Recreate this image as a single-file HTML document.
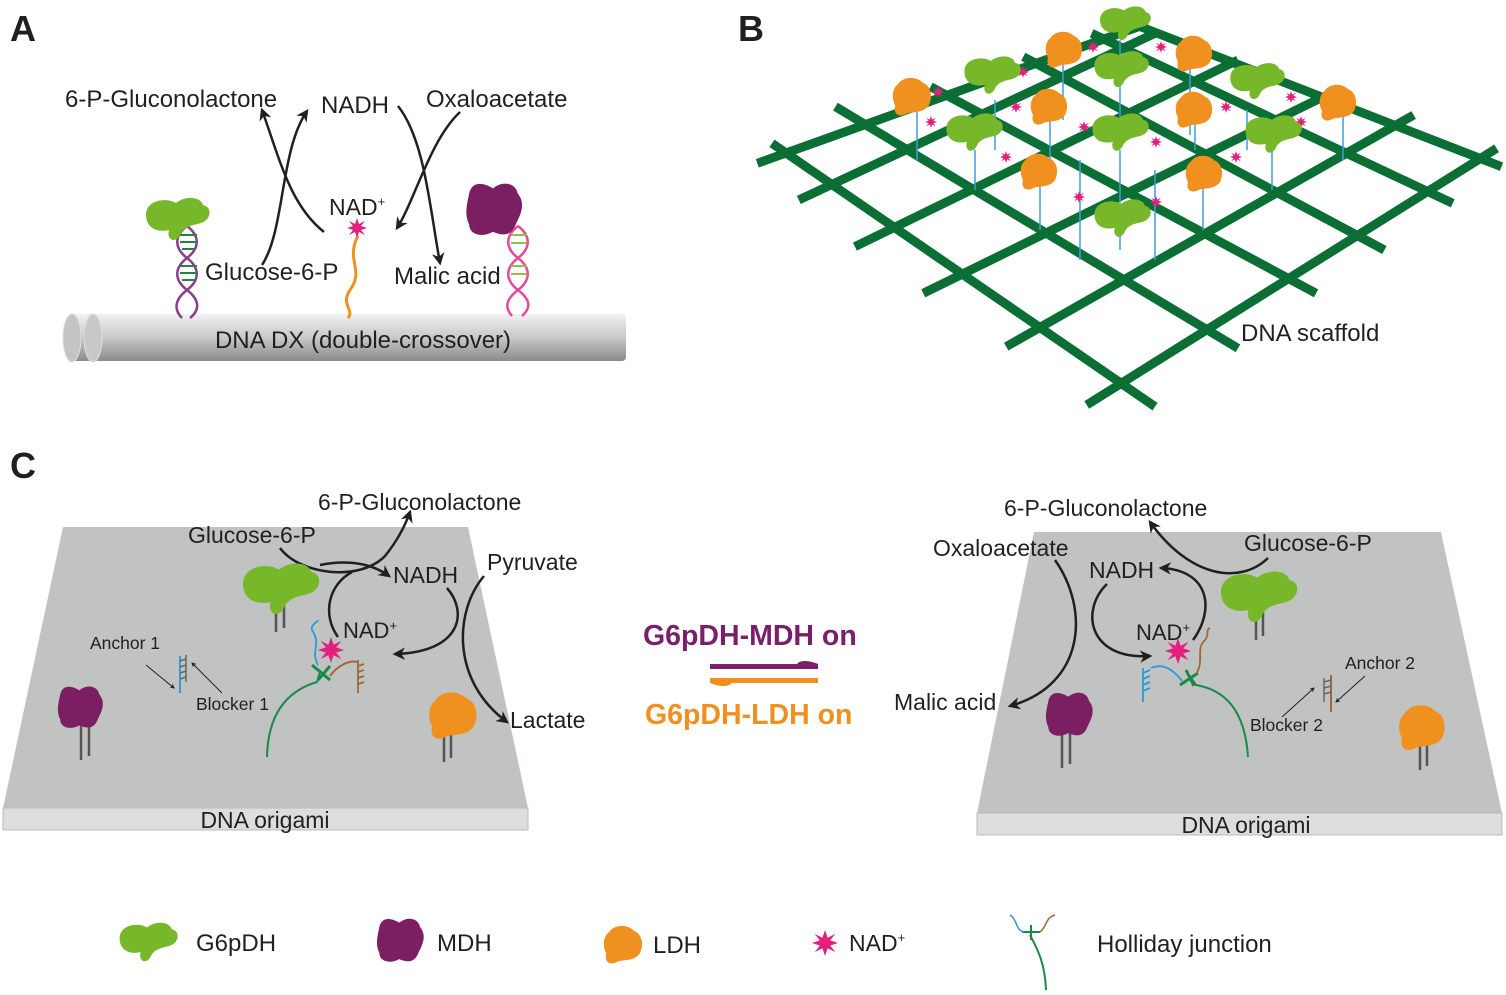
<!DOCTYPE html>
<html><head><meta charset="utf-8"><style>
html,body{margin:0;padding:0;background:#fff}
svg{display:block}
text{font-family:"Liberation Sans",Arial,sans-serif;fill:#231f20}
</style></head><body>
<svg width="1506" height="995" viewBox="0 0 1506 995" xmlns="http://www.w3.org/2000/svg">
<defs>
<marker id="ah" viewBox="0 0 10 10" refX="8" refY="5" markerWidth="5" markerHeight="5" orient="auto"><path d="M0,0 L10,5 L0,10 L3,5Z" fill="#231f20"/></marker>
<linearGradient id="cyl" x1="0" y1="0" x2="0" y2="1"><stop offset="0" stop-color="#f2f2f2"/><stop offset="0.5" stop-color="#c8c8c8"/><stop offset="1" stop-color="#8a8a8a"/></linearGradient>
<symbol id="g" viewBox="0 0 70 50"><path d="M5,20 C5,5 25,2 35,8 C45,0 60,2 62,10 C72,12 70,25 60,28 C55,30 45,30 40,38 C35,50 25,45 28,35 C15,38 5,32 5,20Z" fill="#77b82a"/></symbol>
<symbol id="p" viewBox="0 0 60 60"><path d="M5,15 C8,2 20,5 28,10 C38,2 50,5 52,15 C60,25 55,35 50,45 C45,58 35,55 28,52 C18,58 5,55 5,45 C0,35 3,25 5,15Z" fill="#7b1f62"/></symbol>
<symbol id="o" viewBox="0 0 50 50"><path d="M8,10 C15,0 30,0 38,8 C48,12 50,25 45,35 C38,45 25,42 18,45 C10,50 2,45 5,35 C0,25 2,15 8,10Z" fill="#f0901e"/></symbol>
<symbol id="s" viewBox="0 0 20 20"><path d="M10,0 L12,6 L18,3 L14,8 L20,10 L14,12 L18,17 L12,14 L10,20 L8,14 L2,17 L6,12 L0,10 L6,8 L2,3 L8,6Z" fill="#e4207f"/></symbol>
</defs>

<text x="10" y="41" font-size="36" font-weight="bold" fill="#000">A</text>
<text x="738" y="41" font-size="36" font-weight="bold" fill="#000">B</text>
<text x="10" y="478" font-size="36" font-weight="bold" fill="#000">C</text>

<!-- ===== Panel A ===== -->
<rect x="70" y="314" width="556" height="47" fill="url(#cyl)" rx="4"/>
<ellipse cx="72" cy="338" rx="9" ry="24" fill="#c4c4c4" stroke="#ddd"/>
<ellipse cx="93" cy="338" rx="9" ry="24" fill="#c8c8c8" stroke="#ddd"/>
<text x="363" y="348" font-size="24" text-anchor="middle">DNA DX (double-crossover)</text>
<text x="65" y="107" font-size="24">6-P-Gluconolactone</text>
<text x="321" y="113" font-size="24">NADH</text>
<text x="426" y="107" font-size="24">Oxaloacetate</text>
<text x="329" y="215" font-size="23">NAD<tspan font-size="13" dy="-9">+</tspan></text>
<text x="205" y="280" font-size="24">Glucose-6-P</text>
<text x="394" y="284" font-size="24">Malic acid</text>
<g fill="none" stroke="#231f20" stroke-width="2.5" marker-end="url(#ah)">
<path d="M324,232 C290,205 280,160 262,110"/>
<path d="M262,265 C285,230 280,150 307,111"/>
<path d="M398,106 C425,140 430,210 440,263"/>
<path d="M460,112 C430,140 415,200 397,228"/>
</g>
<!-- left helix -->
<path d="M187,226 C200,236 200,248 187,258 C174,268 174,280 187,290 C200,300 200,310 190,318" fill="none" stroke="#8b3d8b" stroke-width="2.5"/>
<path d="M187,226 C174,236 174,248 187,258 C200,268 200,280 187,290 C174,300 174,310 182,318" fill="none" stroke="#8b3d8b" stroke-width="2.5"/>
<g stroke="#1a8a3a" stroke-width="2"><line x1="180" y1="235" x2="197" y2="235"/><line x1="180" y1="242" x2="197" y2="242"/><line x1="182" y1="249" x2="195" y2="249"/><line x1="180" y1="266" x2="197" y2="266"/><line x1="180" y1="273" x2="197" y2="273"/><line x1="182" y1="280" x2="195" y2="280"/></g>
<use href="#g" x="140" y="195" width="72" height="50"/>
<!-- right helix -->
<path d="M518,226 C531,236 531,248 518,258 C505,268 505,280 518,290 C531,300 531,308 522,316" fill="none" stroke="#e64a9b" stroke-width="2.5"/>
<path d="M518,226 C505,236 505,248 518,258 C531,268 531,280 518,290 C505,300 505,308 512,316" fill="none" stroke="#e64a9b" stroke-width="2.5"/>
<g stroke="#8cc43f" stroke-width="2"><line x1="511" y1="235" x2="527" y2="235"/><line x1="511" y1="243" x2="527" y2="243"/><line x1="511" y1="266" x2="527" y2="266"/><line x1="511" y1="274" x2="527" y2="274"/></g>
<use href="#p" x="460" y="178" width="70" height="62"/>
<path d="M358,236 C345,260 365,270 350,290 C340,305 355,310 348,318" fill="none" stroke="#f0901e" stroke-width="3"/>
<use href="#s" x="347" y="218" width="20" height="20"/>

<!-- ===== Panel B ===== -->
<g transform="translate(750,0) scale(0.488,0.3333)" stroke="#0a6e35" stroke-width="9" fill="none">
<line x1="45" y1="430" x2="830" y2="1220" vector-effect="non-scaling-stroke"/>
<line x1="175" y1="320" x2="1000" y2="1045" vector-effect="non-scaling-stroke"/>
<line x1="370" y1="260" x2="1160" y2="880" vector-effect="non-scaling-stroke"/>
<line x1="560" y1="170" x2="1300" y2="750" vector-effect="non-scaling-stroke"/>
<line x1="700" y1="100" x2="1440" y2="610" vector-effect="non-scaling-stroke"/>
<line x1="800" y1="80" x2="1540" y2="500" vector-effect="non-scaling-stroke"/>
<line x1="690" y1="1215" x2="1530" y2="445" vector-effect="non-scaling-stroke"/>
<line x1="525" y1="1040" x2="1360" y2="345" vector-effect="non-scaling-stroke"/>
<line x1="355" y1="880" x2="1175" y2="290" vector-effect="non-scaling-stroke"/>
<line x1="215" y1="740" x2="1000" y2="180" vector-effect="non-scaling-stroke"/>
<line x1="100" y1="600" x2="830" y2="100" vector-effect="non-scaling-stroke"/>
<line x1="15" y1="490" x2="815" y2="70" vector-effect="non-scaling-stroke"/>
</g>
<g stroke="#3aa0d8" stroke-width="1.5">
<line x1="917" y1="110" x2="917" y2="160"/><line x1="995" y1="100" x2="995" y2="150"/><line x1="1063" y1="60" x2="1063" y2="120"/>
<line x1="1120" y1="40" x2="1120" y2="140"/><line x1="1190" y1="60" x2="1190" y2="135"/><line x1="1247" y1="110" x2="1247" y2="150"/>
<line x1="975" y1="150" x2="975" y2="190"/><line x1="1120" y1="150" x2="1120" y2="250"/><line x1="1272" y1="150" x2="1272" y2="190"/>
<line x1="1040" y1="185" x2="1040" y2="230"/><line x1="1203" y1="185" x2="1203" y2="230"/><line x1="1050" y1="120" x2="1050" y2="160"/>
<line x1="1195" y1="120" x2="1195" y2="150"/><line x1="1343" y1="115" x2="1343" y2="160"/><line x1="1080" y1="160" x2="1080" y2="260"/><line x1="1155" y1="170" x2="1155" y2="260"/>
</g>
<g>
<use href="#s" x="932" y="85" width="12" height="14"/><use href="#s" x="925" y="115" width="12" height="14"/><use href="#s" x="1017" y="65" width="12" height="14"/>
<use href="#s" x="1000" y="150" width="12" height="14"/><use href="#s" x="1078" y="120" width="12" height="14"/><use href="#s" x="1073" y="190" width="12" height="14"/>
<use href="#s" x="1150" y="135" width="12" height="14"/><use href="#s" x="1150" y="195" width="12" height="14"/><use href="#s" x="1230" y="150" width="12" height="14"/>
<use href="#s" x="1285" y="90" width="12" height="14"/><use href="#s" x="1295" y="115" width="12" height="14"/><use href="#s" x="1087" y="40" width="12" height="14"/>
<use href="#s" x="1155" y="40" width="12" height="14"/><use href="#s" x="1220" y="100" width="12" height="14"/><use href="#s" x="1010" y="100" width="12" height="14"/>
</g>
<use href="#o" x="890" y="76" width="44" height="42"/>
<use href="#o" x="1043" y="30" width="42" height="40"/>
<use href="#o" x="1173" y="34" width="42" height="40"/>
<use href="#o" x="1028" y="87" width="42" height="40"/>
<use href="#o" x="1173" y="90" width="42" height="40"/>
<use href="#o" x="1317" y="83" width="42" height="40"/>
<use href="#o" x="1018" y="152" width="42" height="40"/>
<use href="#o" x="1183" y="154" width="42" height="40"/>
<use href="#g" x="1096" y="0" width="56" height="48"/>
<use href="#g" x="960" y="50" width="62" height="52"/>
<use href="#g" x="1090" y="44" width="60" height="52"/>
<use href="#g" x="1226" y="56" width="60" height="52"/>
<use href="#g" x="942" y="106" width="62" height="54"/>
<use href="#g" x="1088" y="106" width="62" height="54"/>
<use href="#g" x="1241" y="108" width="62" height="54"/>
<use href="#g" x="1090" y="191" width="62" height="56"/>
<text x="1241" y="341" font-size="24">DNA scaffold</text>

<!-- ===== Panel C left ===== -->
<path d="M63,527 L468,527 L528,808 L3,808Z" fill="#c1c2c2"/>
<rect x="3" y="808" width="525" height="22" fill="#dcdddd" stroke="#bbb"/>
<text x="265" y="828" font-size="23" text-anchor="middle">DNA origami</text>
<text x="318" y="510" font-size="23">6-P-Gluconolactone</text>
<text x="188" y="543" font-size="23">Glucose-6-P</text>
<text x="393" y="583" font-size="23">NADH</text>
<text x="487" y="570" font-size="23">Pyruvate</text>
<text x="343" y="638" font-size="22">NAD<tspan font-size="13" dy="-8">+</tspan></text>
<text x="510" y="728" font-size="23">Lactate</text>
<text x="90" y="649" font-size="17.5">Anchor 1</text>
<text x="196" y="710" font-size="17.5">Blocker 1</text>
<g fill="none" stroke="#231f20" stroke-width="2.5">
<path d="M280,548 C300,575 360,582 385,556 C398,540 405,526 410,512" marker-end="url(#ah)"/>
<path d="M320,565 C345,560 370,562 389,576" marker-end="url(#ah)"/>
<path d="M338,637 C322,615 328,585 352,572"/>
<path d="M447,588 C468,612 462,652 395,654" marker-end="url(#ah)"/>
<path d="M484,576 C455,610 450,680 507,722" marker-end="url(#ah)"/>
</g>
<g stroke="#231f20" stroke-width="1"><line x1="146" y1="665" x2="174" y2="688" marker-end="url(#ah)"/><line x1="222" y1="693" x2="192" y2="663" marker-end="url(#ah)"/></g>
<g stroke="#555" stroke-width="2.5">
<line x1="276" y1="600" x2="276" y2="632"/><line x1="284" y1="600" x2="284" y2="628"/>
<line x1="81" y1="715" x2="81" y2="760"/><line x1="89" y1="715" x2="89" y2="756"/>
<line x1="444" y1="725" x2="444" y2="762"/><line x1="451" y1="725" x2="451" y2="758"/>
</g>
<use href="#g" x="235" y="560" width="88" height="60"/>
<use href="#p" x="50" y="682" width="62" height="50"/>
<use href="#o" x="422" y="690" width="62" height="52"/>
<line x1="180" y1="656" x2="180" y2="693" stroke="#3a9ad8" stroke-width="2"/>
<g stroke="#666" stroke-width="1.5"><line x1="186" y1="655" x2="186" y2="682"/><line x1="180" y1="661" x2="186" y2="659"/><line x1="180" y1="667" x2="186" y2="665"/><line x1="180" y1="673" x2="186" y2="671"/><line x1="180" y1="679" x2="186" y2="677"/></g>
<path d="M267,757 C268,710 290,690 317,682 L320,672" fill="none" stroke="#1a8a4a" stroke-width="2"/>
<path d="M312,665 L330,680 M318,680 L330,666" stroke="#1a8a4a" stroke-width="3"/>
<path d="M318,665 C310,650 322,645 312,630 C310,625 318,622 318,620" fill="none" stroke="#2a9ad8" stroke-width="1.8"/>
<path d="M330,676 C338,665 350,660 357,662" fill="none" stroke="#a0683a" stroke-width="2"/>
<g stroke="#a0683a" stroke-width="1.8"><line x1="358" y1="660" x2="358" y2="693"/><line x1="358" y1="666" x2="364" y2="664"/><line x1="358" y1="672" x2="364" y2="670"/><line x1="358" y1="678" x2="364" y2="676"/><line x1="358" y1="684" x2="364" y2="682"/></g>
<use href="#s" x="318" y="637" width="26" height="26"/>

<!-- ===== Middle ===== -->
<text x="643" y="645" font-size="28.5" font-weight="bold" style="fill:#7b1f6a">G6pDH-MDH on</text>
<path d="M710,664 L818,664 L818,669 L710,669Z M797,664 C800,660 808,660 818,664" fill="#7b1f6a"/>
<path d="M710,678 L818,678 L818,683 L710,683Z M710,683 C720,687 728,687 732,683" fill="#f0901e"/>
<text x="645" y="724" font-size="28.5" font-weight="bold" style="fill:#f0901e">G6pDH-LDH on</text>

<!-- ===== Panel C right ===== -->
<path d="M1034,532 L1441,532 L1502,813 L977,813Z" fill="#c1c2c2"/>
<rect x="977" y="813" width="525" height="22" fill="#dcdddd" stroke="#bbb"/>
<text x="1246" y="833" font-size="23" text-anchor="middle">DNA origami</text>
<text x="1004" y="516" font-size="23">6-P-Gluconolactone</text>
<text x="933" y="556" font-size="23">Oxaloacetate</text>
<text x="1244" y="551" font-size="23">Glucose-6-P</text>
<text x="1089" y="578" font-size="23">NADH</text>
<text x="1136" y="640" font-size="22">NAD<tspan font-size="13" dy="-8">+</tspan></text>
<text x="894" y="710" font-size="23">Malic acid</text>
<text x="1345" y="669" font-size="17.5">Anchor 2</text>
<text x="1250" y="731" font-size="17.5">Blocker 2</text>
<g fill="none" stroke="#231f20" stroke-width="2.5">
<path d="M1268,558 C1240,585 1190,578 1150,522" marker-end="url(#ah)"/>
<path d="M1193,640 C1215,610 1210,570 1161,568" marker-end="url(#ah)"/>
<path d="M1107,584 C1080,610 1088,660 1150,656" marker-end="url(#ah)"/>
<path d="M1055,560 C1090,610 1085,685 1010,706" marker-end="url(#ah)"/>
</g>
<g stroke="#231f20" stroke-width="1"><line x1="1282" y1="717" x2="1314" y2="688" marker-end="url(#ah)"/><line x1="1365" y1="676" x2="1336" y2="702" marker-end="url(#ah)"/></g>
<g stroke="#555" stroke-width="2.5">
<line x1="1256" y1="605" x2="1256" y2="640"/><line x1="1263" y1="605" x2="1263" y2="636"/>
<line x1="1062" y1="725" x2="1062" y2="768"/><line x1="1070" y1="725" x2="1070" y2="764"/>
<line x1="1420" y1="735" x2="1420" y2="770"/><line x1="1427" y1="735" x2="1427" y2="766"/>
</g>
<use href="#g" x="1213" y="568" width="88" height="60"/>
<use href="#p" x="1038" y="688" width="64" height="52"/>
<use href="#o" x="1393" y="703" width="58" height="50"/>
<line x1="1331" y1="675" x2="1331" y2="712" stroke="#a0683a" stroke-width="2"/>
<g stroke="#666" stroke-width="1.5"><line x1="1324" y1="678" x2="1324" y2="702"/><line x1="1324" y1="682" x2="1331" y2="680"/><line x1="1324" y1="688" x2="1331" y2="686"/><line x1="1324" y1="694" x2="1331" y2="692"/></g>
<path d="M1248,757 C1245,710 1225,690 1196,685 L1190,676" fill="none" stroke="#1a8a4a" stroke-width="2"/>
<path d="M1180,685 L1198,673 M1186,670 L1194,686" stroke="#1a8a4a" stroke-width="3"/>
<path d="M1182,681 C1175,672 1165,662 1151,668" fill="none" stroke="#2a9ad8" stroke-width="1.8"/>
<g stroke="#2a9ad8" stroke-width="1.8"><line x1="1143" y1="668" x2="1143" y2="702"/><line x1="1143" y1="673" x2="1150" y2="670"/><line x1="1143" y1="679" x2="1150" y2="676"/><line x1="1143" y1="685" x2="1150" y2="682"/><line x1="1143" y1="691" x2="1150" y2="688"/></g>
<path d="M1196,674 C1205,660 1195,650 1205,640 C1210,634 1205,630 1210,628" fill="none" stroke="#a0683a" stroke-width="1.8"/>
<use href="#s" x="1165" y="638" width="26" height="26"/>

<!-- ===== Legend ===== -->
<use href="#g" x="115" y="920" width="64" height="46"/>
<text x="196" y="951" font-size="24">G6pDH</text>
<use href="#p" x="370" y="914" width="62" height="52"/>
<text x="437" y="951" font-size="24">MDH</text>
<use href="#o" x="601" y="924" width="44" height="42"/>
<text x="653" y="953" font-size="24">LDH</text>
<use href="#s" x="812" y="930" width="26" height="26"/>
<text x="849" y="951" font-size="23">NAD<tspan font-size="13" dy="-9">+</tspan></text>
<path d="M1046,990 C1045,960 1035,945 1030,935" fill="none" stroke="#1a8a4a" stroke-width="2"/>
<path d="M1022,932 L1040,932 M1031,925 L1031,940" stroke="#1a8a4a" stroke-width="2"/>
<path d="M1024,932 C1015,930 1018,920 1010,915" fill="none" stroke="#2a9ad8" stroke-width="1.5"/>
<path d="M1040,932 C1048,925 1045,918 1055,915" fill="none" stroke="#a0683a" stroke-width="1.5"/>
<text x="1097" y="952" font-size="24">Holliday junction</text>
</svg>
</body></html>
